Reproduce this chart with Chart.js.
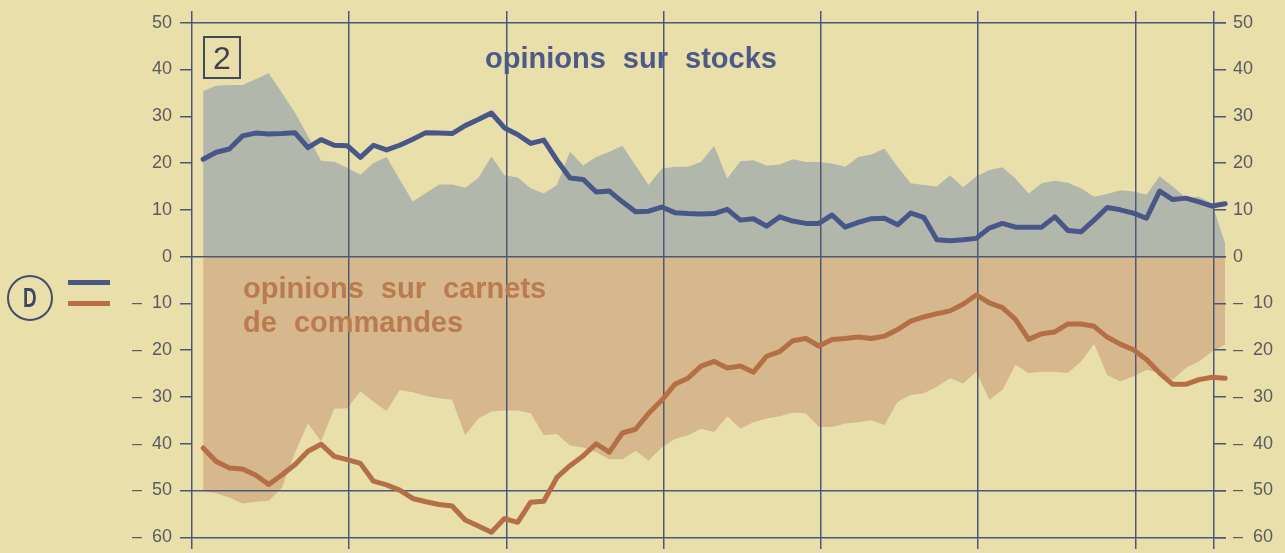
<!DOCTYPE html>
<html>
<head>
<meta charset="utf-8">
<script src="https://cdn.jsdelivr.net/npm/chart.js@4.4.1/dist/chart.umd.min.js"></script>
<style>
  html, body { margin: 0; padding: 0; background: #e8dfab; }
  #wrap { position: relative; width: 1285px; height: 553px; overflow: hidden; }
  #chartBox { position: absolute; left: 0; top: 0; width: 1285px; height: 553px; }
  .lbl {
    position: absolute; white-space: nowrap;
    font-family: 'Liberation Sans', Arial, sans-serif; font-weight: bold;
    font-size: 29px; line-height: 34px; word-spacing: 9px;
  }
  #stocksLbl { left: 485px; top: 41px; color: #4d5987; }
  #carnetsLbl { left: 243px; top: 271px; color: #b97b52; }
  #panel {
    position: absolute; left: 203px; top: 36px; width: 34px; height: 39px;
    border: 2px solid #45475a; color: #3f4150; text-align: center;
    font-family: 'Liberation Sans', Arial, sans-serif; font-size: 32px; line-height: 40px;
  }
  #dmark {
    position: absolute; left: 7px; top: 275px; width: 42px; height: 42px;
    border: 2px solid #444c6a; border-radius: 50%; color: #3d4563; text-align: center;
    font-family: 'Liberation Sans', Arial, sans-serif; font-weight: bold;
    font-size: 27px; line-height: 43px;
  }
  #dmark span { display: inline-block; transform: scaleX(0.7); }
  .key { position: absolute; left: 68px; width: 42px; height: 5px; }
</style>
</head>
<body>
<div id="wrap">
  <div id="chartBox"><canvas id="chart"></canvas></div>
  <div class="lbl" id="stocksLbl">opinions sur stocks</div>
  <div class="lbl" id="carnetsLbl">opinions sur carnets<br>de commandes</div>
  <div id="panel">2</div>
  <div id="dmark"><span>D</span></div>
  <div class="key" style="top:280px; background:#4a5888;"></div>
  <div class="key" style="top:301px; background:#b86f46;"></div>
</div>
<script>
// monthly values, first point a little after the first vertical line
const stocks = [
  20.8, 22.3, 23.0, 25.8, 26.4, 26.2, 26.3, 26.5, 23.3, 25.0,
  23.8, 23.7, 21.2, 23.8, 22.8, 23.8, 25.1, 26.5, 26.4, 26.3,
  28.0, 29.3, 30.7, 27.5, 26.1, 24.2, 24.9, 20.6, 16.8, 16.5,
  13.8, 14.0, 11.7, 9.6, 9.7, 10.6, 9.4, 9.2, 9.1, 9.2,
  10.1, 7.8, 8.1, 6.5, 8.5, 7.6, 7.1, 7.1, 8.9, 6.3,
  7.3, 8.1, 8.2, 6.8, 9.3, 8.4, 3.6, 3.4, 3.6, 3.9,
  6.1, 7.1, 6.3, 6.3, 6.3, 8.5, 5.6, 5.3, 7.8, 10.5,
  10.0, 9.3, 8.2, 14.0, 12.2, 12.5, 11.7, 10.8, 11.3
];
const stocksRange = [
  35.4, 36.5, 36.7, 36.7, 37.9, 39.2, 35.1, 30.8, 25.8, 20.5,
  20.3, 19.0, 17.5, 20.0, 21.3, 16.5, 11.8, 13.6, 15.4, 15.4,
  14.7, 16.8, 21.4, 17.4, 16.9, 14.6, 13.5, 15.3, 22.4, 19.5,
  21.3, 22.4, 23.7, 19.5, 15.3, 18.8, 19.2, 19.2, 20.2, 23.7,
  16.7, 20.4, 20.6, 19.5, 19.7, 20.8, 20.2, 20.2, 19.9, 19.2,
  21.3, 21.8, 23.1, 19.2, 15.7, 15.3, 15.0, 17.4, 14.8, 17.1,
  18.5, 19.1, 16.7, 13.5, 15.7, 16.2, 15.8, 14.6, 12.8, 13.4,
  14.2, 13.9, 13.2, 17.2, 15.0, 12.6, 12.8, 11.4, 2.8
];
const carnets = [
  -40.9, -43.8, -45.2, -45.4, -46.7, -48.7, -46.7, -44.5, -41.6, -40.1,
  -42.7, -43.4, -44.2, -48.0, -48.8, -49.9, -51.7, -52.4, -53.0, -53.3,
  -56.3, -57.6, -58.9, -56.0, -56.8, -52.5, -52.3, -47.2, -44.7, -42.6,
  -40.0, -41.8, -37.7, -36.9, -33.5, -30.7, -27.3, -26.0, -23.4, -22.4,
  -23.8, -23.4, -24.7, -21.3, -20.3, -18.0, -17.5, -19.1, -17.7, -17.5,
  -17.2, -17.5, -17.0, -15.6, -13.8, -12.9, -12.2, -11.6, -10.2, -8.2,
  -9.9, -10.9, -13.4, -17.7, -16.5, -16.1, -14.4, -14.4, -14.9, -17.2,
  -18.7, -19.9, -22.0, -24.9, -27.3, -27.3, -26.3, -25.8, -26.0
];
const carnetsRange = [
  -50.1, -50.6, -51.5, -52.8, -52.4, -52.2, -49.5, -42.0, -35.7, -39.5,
  -32.5, -32.4, -28.8, -31.0, -33.0, -28.5, -29.0, -29.8, -30.3, -30.6,
  -38.2, -34.6, -33.1, -32.9, -32.9, -33.5, -38.2, -37.9, -40.4, -40.8,
  -41.8, -43.3, -43.3, -41.5, -43.6, -40.8, -39.0, -38.2, -36.8, -37.5,
  -34.1, -36.8, -35.4, -34.6, -34.1, -33.3, -33.5, -36.4, -36.4, -35.7,
  -35.4, -35.0, -36.0, -31.0, -29.6, -29.2, -27.8, -26.0, -27.1, -24.6,
  -30.6, -28.5, -23.1, -24.9, -24.6, -24.6, -24.9, -22.4, -18.7, -25.3,
  -26.7, -25.6, -24.2, -24.9, -26.3, -23.8, -22.4, -20.3, -18.8
];
const yTicks = [50, 40, 30, 20, 10, 0, -10, -20, -30, -40, -50, -60];
const ruledLines = [50, 0, -50, -60];

const FIRST_MONTH = 0.85;
const lineColor = '#4e5876';
const tickFont = { family: "'Liberation Sans', Arial, sans-serif", size: 18 };

function toPoints(values) {
  return values.map((v, i) => ({ x: FIRST_MONTH + i, y: v }));
}

function tickLabel(v) {
  return v < 0 ? '\u2013  ' + Math.abs(v) : String(v);
}

// let the shaded bands run past the right axis like the printed chart
const widenFill = {
  id: 'widenFill',
  afterLayout(chart) { chart.chartArea.right += 12; }
};

const yScale = (pos) => ({
  type: 'linear',
  position: pos,
  min: -62.5,
  max: 52.5,
  afterBuildTicks: (scale) => { scale.ticks = yTicks.map(v => ({ value: v })); },
  afterFit: (scale) => {
    scale.width = pos === 'left' ? 192 : 71;
    scale.paddingTop = 0;
    scale.paddingBottom = 0;
  },
  border: { display: false },
  grid: {
    drawOnChartArea: pos === 'left',
    color: (ctx) => ruledLines.includes(ctx.tick && ctx.tick.value) ? lineColor : 'rgba(0,0,0,0)',
    tickColor: lineColor,
    lineWidth: 1.5,
    tickWidth: 1.5,
    tickLength: 12
  },
  ticks: {
    color: '#5b5b60',
    font: tickFont,
    padding: pos === 'left' ? 8 : 7,
    callback: tickLabel
  }
});

new Chart(document.getElementById('chart'), {
  type: 'line',
  data: {
    datasets: [
      {
        data: toPoints(stocksRange),
        borderWidth: 0,
        pointRadius: 0,
        backgroundColor: '#b3b7ab',
        fill: 'origin',
        clip: false
      },
      {
        data: toPoints(carnetsRange),
        borderWidth: 0,
        pointRadius: 0,
        backgroundColor: '#d7b78c',
        fill: 'origin',
        clip: false
      },
      {
        data: toPoints(stocks),
        borderColor: '#495788',
        borderWidth: 5,
        borderJoinStyle: 'round',
        borderCapStyle: 'round',
        pointRadius: 0,
        fill: false,
        clip: false
      },
      {
        data: toPoints(carnets),
        borderColor: '#b56f47',
        borderWidth: 5,
        borderJoinStyle: 'round',
        borderCapStyle: 'round',
        pointRadius: 0,
        fill: false,
        clip: false
      }
    ]
  },
  options: {
    responsive: true,
    maintainAspectRatio: false,
    animation: false,
    layout: { padding: { top: 11, bottom: 4, left: 0, right: 0 } },
    scales: {
      x: {
        type: 'linear',
        min: 0,
        max: 78,
        afterFit: (scale) => { scale.height = 0; },
        border: { display: false },
        grid: { color: lineColor, lineWidth: 1.5, drawTicks: false },
        ticks: { stepSize: 12, display: false }
      },
      y: yScale('left'),
      y2: yScale('right')
    },
    plugins: {
      legend: { display: false },
      tooltip: { enabled: false },
      filler: { drawTime: 'beforeDraw' }
    }
  },
  plugins: [widenFill]
});
</script>
</body>
</html>
